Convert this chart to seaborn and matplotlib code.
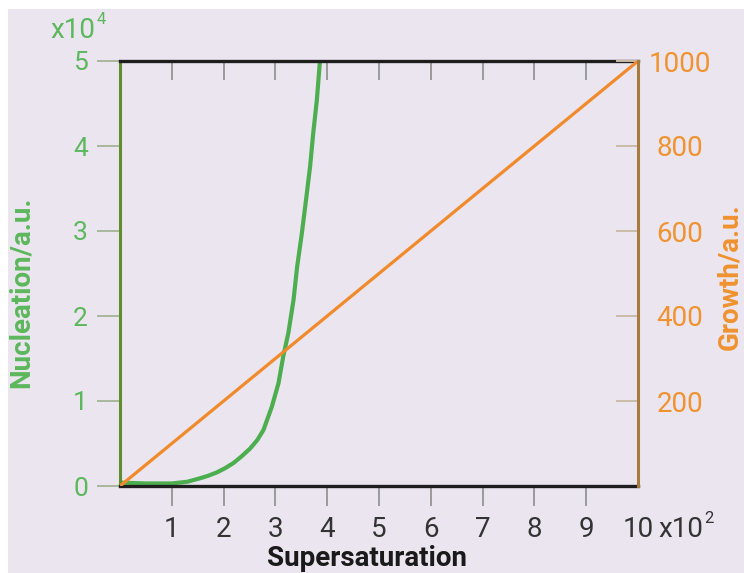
import matplotlib
matplotlib.use("Agg")
import matplotlib.pyplot as plt
from matplotlib.patches import Rectangle
import seaborn as sns
import pandas as pd

# Supersaturation in units of 10^2, nucleation rate in units of 10^4
nucleation_x = [0.0, 0.5, 1.0, 1.3, 1.54, 1.7, 1.87, 2.03, 2.19, 2.35,
                2.51, 2.65, 2.77, 2.93, 3.06, 3.15, 3.25, 3.35, 3.42, 3.51,
                3.59, 3.67, 3.73, 3.80, 3.86]
nucleation_y = [0.04, 0.03, 0.03, 0.05, 0.09, 0.12, 0.16, 0.21, 0.27, 0.35,
                0.44, 0.54, 0.66, 0.93, 1.21, 1.52, 1.80, 2.19, 2.58, 2.97,
                3.36, 3.76, 4.15, 4.54, 5.0]

# Growth rate (linear in supersaturation)
growth_x = [0.0, 10.0]
growth_y = [0.0, 1000.0]

x_ticks = [1, 2, 3, 4, 5, 6, 7, 8, 9, 10]
left_ticks = [0, 1, 2, 3, 4, 5]
right_ticks = [200, 400, 600, 800, 1000]

BG = "#ebe5f0"
GREEN = "#4cae4f"
GREEN_TXT = "#5cb85c"
ORANGE = "#f08a2a"
ORANGE_TXT = "#f0922e"
DARK = "#333333"

sns.set_theme(style="ticks")
plt.rcParams["font.family"] = ["Roboto", "DejaVu Sans"]

W, H = 744, 573
fig = plt.figure(figsize=(W / 100, H / 100), dpi=100, facecolor="white")
fig.patches.append(Rectangle((8 / W, 0), 1 - 8 / W, 1 - 9 / H,
                             transform=fig.transFigure, facecolor=BG,
                             edgecolor="none", zorder=-10))

ax = fig.add_axes([120 / W, 1 - 486 / H, 518 / W, 425 / H])
ax.set_facecolor(BG)

nuc = pd.DataFrame({"s": nucleation_x, "n": nucleation_y})
gro = pd.DataFrame({"s": growth_x, "g": growth_y})

sns.lineplot(data=nuc, x="s", y="n", ax=ax, color=GREEN, linewidth=3.0,
             solid_capstyle="round", solid_joinstyle="round")
ax.set_xlim(0, 10)
ax.set_ylim(0, 5)
ax.set_xlabel("")
ax.set_ylabel("")

ax2 = ax.twinx()
sns.lineplot(data=gro, x="s", y="g", ax=ax2, color=ORANGE, linewidth=2.3)
ax2.set_ylim(0, 1000)
ax2.set_xlim(0, 10)
ax2.set_xlabel("")
ax2.set_ylabel("")

# spines
for side in ["top", "bottom"]:
    ax.spines[side].set_color("#1e1e1e")
    ax.spines[side].set_linewidth(2.4)
ax.spines["left"].set_color("#5e8f2f")
ax.spines["left"].set_linewidth(2.2)
ax.spines["right"].set_visible(False)
for side in ["top", "bottom", "left"]:
    ax2.spines[side].set_visible(False)
ax2.spines["right"].set_color("#a77b3c")
ax2.spines["right"].set_linewidth(2.2)

# bottom axis
ax.set_xticks(x_ticks)
ax.set_xticklabels([str(v) for v in x_ticks])
ax.tick_params(axis="x", direction="out", length=14.4, width=1.4,
               color="#9a9a9a", labelcolor=DARK, labelsize=20, pad=7)
ax.xaxis.get_major_ticks()[-1].tick1line.set_visible(False)

# inner ticks along the top edge
top = ax.secondary_xaxis("top")
top.set_xticks(x_ticks[:-1])
top.tick_params(axis="x", direction="in", length=13.7, width=1.4,
                color="#9a9a9a", labeltop=False)
top.spines["top"].set_visible(False)

# left axis
ax.set_yticks(left_ticks)
ax.set_yticklabels([str(v) for v in left_ticks])
ax.tick_params(axis="y", direction="out", length=16.5, width=1.4,
               color="#a9b89c", labelcolor=GREEN_TXT, labelsize=19, pad=6.5)

# right axis
ax2.set_yticks(right_ticks)
ax2.set_yticklabels([str(v) for v in right_ticks])
ax2.tick_params(axis="y", direction="in", length=15.8, width=1.4,
                color="#cbbba8", labelcolor=ORANGE_TXT, labelsize=20, pad=30)
for t in ax2.get_yticklabels():
    t.set_horizontalalignment("center")


def fx(px):
    return px / W


def fy(py):
    return 1 - py / H


# axis titles
fig.text(fx(21), fy(292), "Nucleation/a.u.", rotation=90, color=GREEN_TXT,
         fontsize=20, fontweight="bold", ha="center", va="center")
fig.text(fx(730), fy(277), "Growth/a.u.", rotation=90, color=ORANGE_TXT,
         fontsize=20, fontweight="bold", ha="center", va="center")
fig.text(fx(367), fy(566), "Supersaturation", color="#1a1a1a",
         fontsize=20, fontweight="bold", ha="center", va="baseline")


# scale multipliers with superscript exponents
def multiplier(px, py, exponent, color):
    base = fig.text(fx(px), fy(py), "x10", color=color, fontsize=20,
                    ha="left", va="baseline")
    ax.annotate(exponent, xy=(1.0, 0.62), xycoords=base,
                xytext=(1, 0), textcoords="offset points",
                color=color, fontsize=12, ha="left", va="bottom",
                annotation_clip=False)


multiplier(50, 38, "4", GREEN_TXT)
multiplier(658, 537, "2", DARK)

fig.savefig("out.png", dpi=100, facecolor=fig.get_facecolor())
